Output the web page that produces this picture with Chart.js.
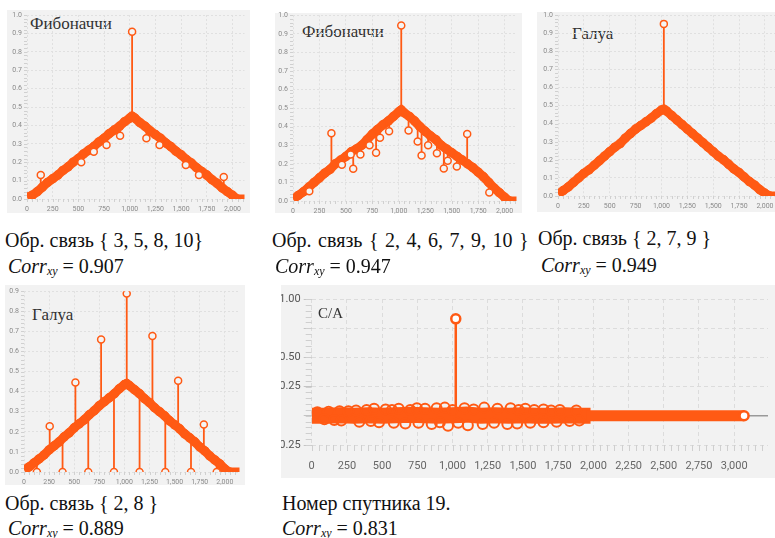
<!DOCTYPE html>
<html>
<head>
<meta charset="utf-8">
<script src="https://cdn.jsdelivr.net/npm/chart.js@4.4.1/dist/chart.umd.min.js"></script>
<style>
  body { margin: 0; width: 775px; height: 538px; overflow: hidden; background: #fff; position: relative; }
  .panel { position: absolute; background: #f2f2f2; }
  .name { position: absolute; font-family: "Liberation Serif", serif; font-size: 17px; color: #333; white-space: nowrap; }
  .cap { position: absolute; font-family: "Liberation Serif", serif; font-size: 20px; color: #111; white-space: nowrap; line-height: 1; }
  .cap sub { font-size: 12px; vertical-align: -2px; }
  canvas { position: absolute; }
</style>
</head>
<body>
<div class="panel" style="left:7px;top:10px;width:243px;height:203px"></div>
<div class="panel" style="left:275px;top:13px;width:247px;height:200px"></div>
<div class="panel" style="left:537px;top:12px;width:238px;height:200px"></div>
<div class="panel" style="left:5px;top:285px;width:240px;height:200px"></div>
<div class="panel" style="left:281px;top:285px;width:494px;height:193px"></div>

<div id="wrap5" style="position:absolute;left:281px;top:285px;width:494px;height:200px;overflow:hidden"></div>

<div class="name" style="left:30px;top:14px">Фибоначчи</div>
<div class="name" style="left:302px;top:22px">Фибоначчи</div>
<div class="name" style="left:572px;top:24px">Галуа</div>
<div class="name" style="left:32px;top:305px">Галуа</div>
<div class="name" style="left:318px;top:305px;font-size:15px">C/A</div>

<div class="cap" style="left:5px;top:230px">Обр. связь { 3, 5, 8, 10}</div>
<div class="cap" style="left:8px;top:256px"><i>Corr<sub>xy</sub></i> = 0.907</div>
<div class="cap" style="left:272px;top:230px;word-spacing:1.5px">Обр. связь { 2, 4, 6, 7, 9, 10 }</div>
<div class="cap" style="left:275px;top:256px"><i>Corr<sub>xy</sub></i> = 0.947</div>
<div class="cap" style="left:538px;top:228px">Обр. связь { 2, 7, 9 }</div>
<div class="cap" style="left:541px;top:255px"><i>Corr<sub>xy</sub></i> = 0.949</div>
<div class="cap" style="left:5px;top:493px">Обр. связь { 2, 8 }</div>
<div class="cap" style="left:8px;top:518px"><i>Corr<sub>xy</sub></i> = 0.889</div>
<div class="cap" style="left:282px;top:493px">Номер спутника 19.</div>
<div class="cap" style="left:282px;top:518px"><i>Corr<sub>xy</sub></i> = 0.831</div>

<script>
const ORANGE = "#ff5a14";

// tick values
const triXTicks = [0, 250, 500, 750, 1000, 1250, 1500, 1750, 2000];
const caXTicks = [0, 250, 500, 750, 1000, 1250, 1500, 1750, 2000, 2250, 2500, 2750, 3000];
const caYLabels = [1, 0.5, 0.25, -0.25];

// sample positions shared by the four triangle charts
const bandX = [0, 50, 100, 150, 200, 250, 300, 350, 400, 450, 500, 550, 600, 650, 700, 750, 800, 850, 900, 950, 1000,
  1023, 1050, 1100, 1150, 1200, 1250, 1300, 1350, 1400, 1450, 1500, 1550, 1600, 1650, 1700, 1750, 1800, 1850, 1900, 1950, 2000, 2046, 2200];

// Fibonacci, feedback {3, 5, 8, 10}
const fib1Band = [0.01, 0.02, 0.04, 0.065, 0.09, 0.11, 0.13, 0.155, 0.175, 0.2, 0.22, 0.245, 0.265, 0.285, 0.31, 0.33, 0.355, 0.375, 0.395, 0.42, 0.44,
  0.45, 0.44, 0.415, 0.395, 0.37, 0.35, 0.33, 0.305, 0.285, 0.26, 0.24, 0.215, 0.195, 0.17, 0.15, 0.13, 0.105, 0.085, 0.06, 0.04, 0.02, 0, 0];
const fib1SpikeX = [134, 528, 650, 774, 906, 1023, 1162, 1290, 1546, 1674, 1915];
const fib1SpikeBase = [0.06, 0.23, 0.285, 0.34, 0.4, 0.45, 0.39, 0.33, 0.22, 0.165, 0.055];
const fib1SpikeTop = [0.13, 0.2, 0.257, 0.293, 0.344, 0.909, 0.33, 0.293, 0.185, 0.13, 0.12];

// Fibonacci, feedback {2, 4, 6, 7, 9, 10}
const fib2Band = [0.01, 0.03, 0.05, 0.075, 0.1, 0.125, 0.15, 0.17, 0.2, 0.22, 0.24, 0.265, 0.28, 0.3, 0.33, 0.36, 0.385, 0.41, 0.43, 0.455, 0.48,
  0.49, 0.475, 0.455, 0.43, 0.4, 0.375, 0.35, 0.33, 0.3, 0.28, 0.26, 0.24, 0.22, 0.2, 0.18, 0.155, 0.13, 0.1, 0.07, 0.045, 0.02, 0, 0];
const fib2SpikeX = [154, 363, 462, 545, 569, 637, 723, 785, 822, 908, 1023, 1092, 1178, 1215, 1277, 1360, 1425, 1462, 1548, 1646, 1855];
const fib2SpikeBase = [0.075, 0.18, 0.225, 0.26, 0.27, 0.295, 0.345, 0.375, 0.395, 0.435, 0.49, 0.46, 0.415, 0.395, 0.36, 0.32, 0.29, 0.275, 0.24, 0.2, 0.1];
const fib2SpikeTop = [0.052, 0.364, 0.195, 0.25, 0.173, 0.25, 0.3, 0.26, 0.34, 0.375, 0.945, 0.38, 0.32, 0.245, 0.3, 0.257, 0.175, 0.216, 0.186, 0.36, 0.046];

// Galois, feedback {2, 7, 9}
const gal1Band = [0.01, 0.03, 0.05, 0.075, 0.1, 0.125, 0.145, 0.17, 0.195, 0.22, 0.245, 0.27, 0.29, 0.32, 0.345, 0.37, 0.39, 0.41, 0.43, 0.455, 0.475,
  0.48, 0.47, 0.445, 0.42, 0.395, 0.37, 0.345, 0.32, 0.295, 0.27, 0.245, 0.22, 0.2, 0.175, 0.15, 0.13, 0.105, 0.08, 0.06, 0.035, 0.015, 0, 0];
const gal1SpikeX = [1023];
const gal1SpikeBase = [0.48];
const gal1SpikeTop = [0.952];

// Galois, feedback {2, 8}
const gal2Band = [0.01, 0.025, 0.045, 0.065, 0.085, 0.11, 0.13, 0.15, 0.175, 0.195, 0.22, 0.24, 0.26, 0.285, 0.305, 0.33, 0.35, 0.37, 0.39, 0.415, 0.435,
  0.44, 0.43, 0.41, 0.39, 0.365, 0.345, 0.32, 0.3, 0.28, 0.255, 0.235, 0.215, 0.19, 0.17, 0.15, 0.125, 0.105, 0.08, 0.06, 0.04, 0.015, 0, 0];
const gal2SpikeX = [128, 256, 384, 512, 640, 768, 896, 1023, 1151, 1279, 1407, 1535, 1663, 1791, 1919];
const gal2SpikeBase = [0.055, 0.11, 0.165, 0.225, 0.28, 0.335, 0.39, 0.44, 0.39, 0.335, 0.28, 0.225, 0.165, 0.11, 0.05];
const gal2SpikeTop = [0, 0.228, 0, 0.446, 0, 0.66, 0, 0.888, 0, 0.677, 0, 0.454, 0, 0.236, 0];

// C/A code, satellite 19
const caCoreX = [0, 100, 200, 300, 400, 500, 600, 700, 800, 900, 1000, 1100, 1200, 1300, 1400, 1500, 1600, 1700, 1800, 1900, 1980];
const caCoreY = [0, 0, 0.005, 0, 0.005, 0, 0.005, 0.01, 0.005, 0, 0.005, 0.01, 0, 0.005, 0, 0.005, 0, 0, 0.005, 0, 0];
const caFlatX = [1950, 2250, 2500, 2750, 3000, 3070];
const caFlatY = [0, 0, 0, 0, 0, 0];
const caTailX = [3070, 3240];
const caTailY = [0, 0];
const caDotsX = [40, 120, 198, 260, 315, 390, 443, 525, 570, 618, 700, 747, 805, 887, 945, 1000, 1085, 1150, 1225, 1319, 1412, 1470, 1517, 1580, 1646, 1700, 1762, 1879,
  90, 160, 210, 338, 420, 478, 583, 665, 758, 852, 910, 968, 1040, 1109, 1214, 1295, 1389, 1459, 1552, 1646, 1739, 1832, 1900];
const caDotsY = [0.03, 0.035, 0.04, 0.04, 0.045, 0.05, 0.06, 0.055, 0.05, 0.06, 0.05, 0.065, 0.06, 0.065, 0.07, 0.05, 0.065, 0.055, 0.07, 0.06, 0.065, 0.05, 0.06, 0.05, 0.055, 0.045, 0.05, 0.045,
  -0.03, -0.035, -0.04, -0.05, -0.045, -0.055, -0.06, -0.065, -0.06, -0.07, -0.055, -0.085, -0.06, -0.08, -0.07, -0.06, -0.07, -0.065, -0.06, -0.055, -0.05, -0.045, -0.04];
const caSpikeX = [1023];
const caSpikeBase = [0.05];
const caSpikeTop = [0.83];

Chart.defaults.font.family = "Roboto, 'Liberation Sans', sans-serif";
Chart.defaults.animation = false;
Chart.defaults.plugins.legend.display = false;
Chart.defaults.plugins.tooltip.enabled = false;

const pts = (xs, ys) => xs.map((x, i) => ({ x: x, y: ys[i] }));
const stems = (xs, base, top) => {
  const out = [];
  xs.forEach((x, i) => out.push({ x: x, y: base[i] }, { x: x, y: top[i] }, { x: x, y: null }));
  return out;
};
const fmt = v => v.toLocaleString("en-US");

// little ruler marks along the left and bottom axes
const rulerTicks = {
  id: "rulerTicks",
  beforeDatasetsDraw(chart, args, opts) {
    const { ctx, chartArea: a, scales: { x, y } } = chart;
    ctx.save();
    ctx.strokeStyle = opts.color;
    ctx.lineWidth = 1;
    ctx.beginPath();
    for (let v = x.min; v <= x.max; v += opts.xStep) {
      const px = Math.round(x.getPixelForValue(v)) + 0.5;
      ctx.moveTo(px, a.bottom);
      ctx.lineTo(px, a.bottom + opts.len);
    }
    for (let v = y.min; v <= y.max + 1e-9; v += opts.yStep) {
      const py = Math.round(y.getPixelForValue(v)) + 0.5;
      ctx.moveTo(a.left - opts.len, py);
      ctx.lineTo(a.left, py);
    }
    ctx.stroke();
    ctx.restore();
  }
};

function addCanvas(parent, box) {
  const c = document.createElement("canvas");
  c.width = box.w;
  c.height = box.h;
  c.style.left = box.x + "px";
  c.style.top = box.y + "px";
  parent.appendChild(c);
  return c;
}

// box = canvas rect, plot = wanted plot area (page coords)
function triangleChart(box, plot, xMax, yMax, band, sx, sb, st) {
  const canvas = addCanvas(document.body, box);
  return new Chart(canvas, {
    type: "line",
    plugins: [rulerTicks],
    data: {
      datasets: [
        {
          data: pts(sx, st), showLine: false, clip: 0,
          pointRadius: 3.5, pointBorderWidth: 1.5, pointBorderColor: ORANGE, pointBackgroundColor: "#f4f4f4"
        },
        {
          data: pts(bandX, band), borderColor: ORANGE, borderWidth: 9, tension: 0,
          pointRadius: 4, pointBorderWidth: 1.5, pointBorderColor: ORANGE, pointBackgroundColor: "rgba(0,0,0,0)"
        },
        {
          data: stems(sx, sb, st), borderColor: ORANGE, borderWidth: 1.8, pointRadius: 0, spanGaps: false
        }
      ]
    },
    options: {
      responsive: false,
      layout: { padding: { top: plot.top - box.y, right: box.x + box.w - plot.right, left: 0, bottom: 0 } },
      plugins: { rulerTicks: { color: "#d0d0d0", xStep: 50, yStep: 0.02, len: 3 } },
      scales: {
        x: {
          type: "linear", min: 0, max: xMax,
          afterBuildTicks: s => { s.ticks = triXTicks.map(v => ({ value: v })); },
          afterFit: s => { s.height = box.y + box.h - plot.bottom; },
          ticks: { autoSkip: false, maxRotation: 0, padding: 6, font: { size: 7 }, color: "#8a8a8a", callback: v => fmt(v) },
          grid: { color: "#e0e0e0", drawTicks: false },
          border: { display: false, dash: [2, 2] }
        },
        y: {
          min: 0, max: yMax,
          afterFit: s => { s.width = plot.left - box.x; },
          ticks: { stepSize: 0.1, padding: 5, font: { size: 7 }, color: "#8a8a8a", callback: v => v.toFixed(1) },
          grid: { color: "#e0e0e0", drawTicks: false },
          border: { display: false, dash: [2, 2] }
        }
      }
    }
  });
}

triangleChart({ x: 5, y: 5, w: 245, h: 213 }, { left: 27, top: 15, right: 250, bottom: 199 }, 2117, 1.0,
  fib1Band, fib1SpikeX, fib1SpikeBase, fib1SpikeTop);
triangleChart({ x: 272, y: 6, w: 250, h: 212 }, { left: 293, top: 14.5, right: 522, bottom: 201 }, 2112, 1.0,
  fib2Band, fib2SpikeX, fib2SpikeBase, fib2SpikeTop);
triangleChart({ x: 535, y: 6, w: 252, h: 209 }, { left: 558, top: 14, right: 787, bottom: 196 }, 2160, 1.0,
  gal1Band, gal1SpikeX, gal1SpikeBase, gal1SpikeTop);
triangleChart({ x: 2, y: 282, w: 243, h: 208 }, { left: 24, top: 290, right: 245, bottom: 472 }, 2146, 0.9,
  gal2Band, gal2SpikeX, gal2SpikeBase, gal2SpikeTop);

// C/A chart, clipped on the left like the screenshot
const wrap5 = document.getElementById("wrap5");
const box5 = { x: -6, y: 0, w: 500, h: 200 };
const plot5 = { left: 311.7 - 281 + 6, top: 14, bottom: 160 };
new Chart(addCanvas(wrap5, box5), {
  type: "line",
  plugins: [rulerTicks],
  data: {
    datasets: [
      {
        data: pts(caSpikeX, caSpikeTop), showLine: false,
        pointRadius: 4.5, pointBorderWidth: 2.5, pointBorderColor: ORANGE, pointBackgroundColor: "#ffffff"
      },
      {
        data: pts(caFlatX, caFlatY), borderColor: ORANGE, borderWidth: 11, tension: 0,
        pointRadius: c => (c.dataIndex === caFlatX.length - 1 ? 4.5 : 0),
        pointBorderWidth: 2.5, pointBorderColor: ORANGE, pointBackgroundColor: "#ffffff"
      },
      {
        data: pts(caDotsX, caDotsY), showLine: false,
        pointRadius: 5, pointBorderWidth: 2, pointBorderColor: ORANGE, pointBackgroundColor: "rgba(0,0,0,0)"
      },
      {
        data: pts(caCoreX, caCoreY), borderColor: ORANGE, borderWidth: 16, tension: 0, pointRadius: 0
      },
      {
        data: stems(caSpikeX, caSpikeBase, caSpikeTop), borderColor: ORANGE, borderWidth: 2.5, pointRadius: 0, spanGaps: false
      },
      {
        data: pts(caTailX, caTailY), borderColor: "#9a9a9a", borderWidth: 1.5, pointRadius: 0
      }
    ]
  },
  options: {
    responsive: false,
    layout: { padding: { top: plot5.top, right: 0, left: 0, bottom: 0 } },
    plugins: { rulerTicks: { color: "#cfcfcf", xStep: 50, yStep: 0.05, len: 6 } },
    scales: {
      x: {
        type: "linear", min: 0, max: 3240,
        afterBuildTicks: s => { s.ticks = caXTicks.map(v => ({ value: v })); },
        afterFit: s => { s.height = box5.h - plot5.bottom; },
        ticks: { autoSkip: false, maxRotation: 0, padding: 15, font: { size: 11 }, color: "#666", callback: v => fmt(v) },
        grid: { color: "#dcdcdc", drawTicks: false },
        border: { display: false, dash: [4, 3] }
      },
      y: {
        min: -0.25, max: 1.0,
        afterFit: s => { s.width = plot5.left; },
        ticks: {
          stepSize: 0.25, padding: 3, font: { size: 11 }, color: "#555",
          callback: v => (caYLabels.some(s => Math.abs(s - v) < 1e-6) ? v.toFixed(2) : "")
        },
        grid: { color: "#dcdcdc", drawTicks: true, tickLength: 8, tickColor: "#c4c4c4" },
        border: { display: false, dash: [4, 3] }
      }
    }
  }
});
</script>
</body>
</html>
